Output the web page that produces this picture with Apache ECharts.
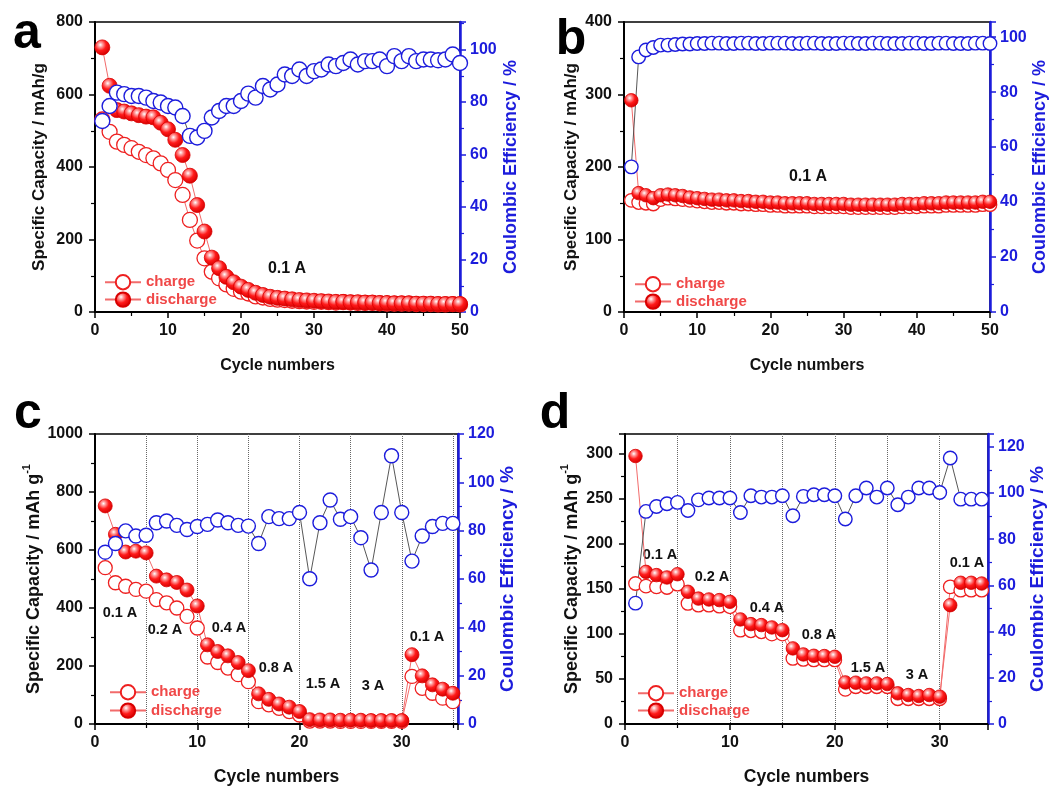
<!DOCTYPE html>
<html><head><meta charset="utf-8">
<script src="https://cdn.jsdelivr.net/npm/echarts@6/dist/echarts.min.js"></script>
<style>html,body{margin:0;padding:0;background:#fff}#c{width:1051px;height:787px}</style>
</head><body><div id="c"></div>
<script>
const FONT = '"Liberation Sans", Arial, Helvetica, sans-serif';

// ---------- Panel a (cycles 1..50, 0.1 A) ----------
const aCharge = [531,497,470,461,452,442,433,424,410,392,364,323,254,197,148,111,93,76,64,56,51,43,40,36,34,33,31,30,29,28,28,27,26,27,26,25,25,25,24,23,23,23,23,22,22,22,21,21,22,21];
const aDischarge = [730,624,557,553,548,543,539,537,522,504,475,433,376,295,222,150,121,97,82,70,61,53,47,42,39,37,35,33,32,31,30,29,28,28,27,27,26,26,25,25,24,24,24,23,23,23,22,22,22,22];
const aCE = [72.8,78.5,83.6,83.0,82.3,82.3,81.7,80.4,79.8,78.5,77.9,74.7,67.1,66.5,69.0,74.1,76.6,78.5,78.5,80.4,83.2,81.7,86.1,84.8,86.7,90.5,89.9,92.4,89.9,91.8,92.4,94.3,93.7,94.9,96.2,94.3,95.6,95.6,96.2,93.7,97.5,95.6,97.5,95.6,96.2,96.2,95.9,96.2,98.1,94.9];

// ---------- Panel b (cycles 1..50, 0.1 A) ----------
const bCharge = [154,151,150,149,155,157,156,155,154,153,152,151,151,150,150,149,149,148,148,147,147,146,146,146,146,145,145,145,145,145,144,144,144,144,144,144,144,145,145,145,146,146,146,147,147,147,147,147,148,148];
const bDischarge = [292,164,161,157,161,162,161,160,158,157,156,155,155,154,154,153,153,152,152,151,151,150,150,150,150,149,149,149,149,149,148,148,148,148,148,148,148,149,149,149,150,150,150,151,151,151,151,151,152,152];
const bCE = [52.8,92.8,95.3,96.2,97.1,97.1,97.3,97.5,97.5,97.7,97.7,97.8,97.8,97.7,97.7,97.8,97.8,97.7,97.7,97.8,97.8,97.8,97.7,97.7,97.8,97.8,97.7,97.7,97.7,97.8,97.8,97.7,97.7,97.8,97.8,97.7,97.7,97.7,97.8,97.8,97.7,97.7,97.8,97.8,97.7,97.7,97.7,97.8,97.8,97.7];

// ---------- Panel c (rate test, cycles 1..36) ----------
const cCharge = [539,487,475,464,458,429,418,400,371,331,231,212,193,170,146,77,66,54,43,31,10,10,10,9,9,9,9,9,9,9,164,123,106,89,77,60];
const cDischarge = [752,654,593,596,590,510,497,488,462,407,273,250,235,212,184,104,85,69,58,43,15,14,14,13,13,13,12,12,12,12,239,166,135,120,106,92];
const cCE = [71.1,74.7,79.9,77.8,78.1,83.3,84.0,82.2,80.5,81.7,82.6,84.4,83.3,82.2,81.9,74.7,85.8,85.0,85.0,87.5,60.1,83.3,92.7,84.7,85.8,77.1,63.7,87.5,111.0,87.5,67.4,77.8,81.7,83.0,83.0,76.4];

// ---------- Panel d (rate test, cycles 1..35) ----------
const dCharge = [155.7,152.8,152,151.3,155,133.6,131.7,131.7,130.6,129.9,104,103.3,102.2,99.6,99.6,72.7,71.6,71,71,71,38.4,41.3,41.3,41.3,41.3,28,28,28,28,28,152,148.3,148.3,148.3,148.3];
const dDischarge = [297,168.6,165,162.4,166,146.5,139,138,137.3,135.4,115.9,110.7,109.6,107,104,83.8,77.1,75.6,75.3,74.5,46.1,45.8,45,45,44.3,34,32.1,31,32.1,30.3,131.7,156.5,156.5,155.7,156.5];
const dCE = [52.3,92,94.1,95.3,95.9,92.4,97,97.8,97.8,97.8,91.5,98.8,98.2,98.2,98.8,90.1,98.5,99.2,99.2,98.8,88.7,98.8,102.1,98.2,102.1,94.9,98.2,102.1,102.1,100.2,115.1,97.3,97.3,97.3,97.3];

// ---------- Text labels ----------
const panelLetters = ['a','b','c','d'];
const xTitle = 'Cycle numbers';
const yTitleAB = 'Specific Capacity / mAh/g';
const yTitleCDmain = 'Specific Capacity / mAh g';
const yTitleCDsup = '-1';
const rTitle = 'Coulombic Efficiency / %';
const currentsA = ['0.1 A'];
const currentsB = ['0.1 A'];
const currentsC = ['0.1 A','0.2 A','0.4 A','0.8 A','1.5 A','3 A','0.1 A'];
const currentsD = ['0.1 A','0.2 A','0.4 A','0.8 A','1.5 A','3 A','0.1 A'];

// ---------- Layout (positions / styles only) ----------
const layout = [
  {grid:{left:95,top:22,width:365,height:290}, xMax:50, yMax:800, yInt:200, rMax:110.5, sym:15,
   data:[aCharge,aDischarge,aCE], dotted:false, yNameGap:47, rNameGap:42, xNameGap:46, xNameSize:16, titleSize:17, rich:false,
   legend:{left:99, top:269, gap:1},
   letter:{x:27,y:34}, labels:currentsA, labelPos:[[287,269]], labelSize:16},
  {grid:{left:624,top:22,width:366,height:290}, xMax:50, yMax:400, yInt:100, rMax:105.5, sym:13.5,
   data:[bCharge,bDischarge,bCE], dotted:false, yNameGap:44, rNameGap:40, xNameGap:46, xNameSize:16, titleSize:17, rich:false,
   legend:{left:629, top:271, gap:1},
   letter:{x:571,y:40}, labels:currentsB, labelPos:[[808,177]], labelSize:16},
  {grid:{left:95,top:434,width:363,height:290}, xMax:35.5, yMax:1000, yInt:200, rMax:120, sym:14,
   data:[cCharge,cDischarge,cCE], dotted:true, yNameGap:46, rNameGap:38, xNameGap:44, xNameSize:17.5, titleSize:18, rich:true,
   legend:{left:104, top:679, gap:2},
   letter:{x:28,y:414}, labels:currentsC, labelPos:[[120,613],[165,630],[229,628],[276,668],[323,684],[373,686],[427,637]], labelSize:14.5},
  {grid:{left:625,top:434,width:363,height:290}, xMax:34.6, yMax:321.4, yInt:50, rMax:125.5, sym:13.5,
   data:[dCharge,dDischarge,dCE], dotted:true, yNameGap:44, rNameGap:38, xNameGap:44, xNameSize:17.5, titleSize:18, rich:true,
   legend:{left:632, top:680, gap:1},
   letter:{x:555,y:414}, labels:currentsD, labelPos:[[660,555],[712,577],[767,608],[819,635],[868,668],[917,675],[967,563]], labelSize:14.5}
];

const BLUE = '#1c1cdc';
const REDLINE = '#f26b6b';
const discharageFill = {type:'radial', x:0.38, y:0.34, r:0.66, colorStops:[
  {offset:0,color:'#ffffff'},{offset:0.22,color:'#ff9a9a'},{offset:0.55,color:'#ff1a1a'},{offset:1,color:'#d40000'}]};

const option = {animation:false, backgroundColor:'#fff', grid:[], xAxis:[], yAxis:[], series:[], legend:[], graphic:[]};

function isMult(v, step){ return Math.abs(v/step - Math.round(v/step)) < 1e-6; }

layout.forEach((p, gi) => {
  option.grid.push(Object.assign({show:true, borderColor:'#000', borderWidth:1.5, backgroundColor:'transparent'}, p.grid));
  option.xAxis.push({
    type:'value', gridIndex:gi, min:0, max:p.xMax, interval:10,
    name:xTitle, nameLocation:'middle', nameGap:p.xNameGap,
    nameTextStyle:{fontFamily:FONT, fontWeight:'bold', fontSize:p.xNameSize, color:'#111'},
    axisLine:{onZero:false, lineStyle:{color:'#000', width:2}},
    axisTick:{show:true, length:6, lineStyle:{color:'#000', width:1.5}},
    minorTick:{show:true, splitNumber:2, length:4, lineStyle:{color:'#000', width:1.2}},
    axisLabel:{margin:11, fontFamily:FONT, fontWeight:'bold', fontSize:16, color:'#111',
      formatter:v => isMult(v,10) ? String(v) : ''},
    splitLine:{show:p.dotted, lineStyle:{type:'dotted', color:'#666', width:1}},
    minorSplitLine:{show:p.dotted, lineStyle:{type:'dotted', color:'#666', width:1}}
  });
  const yName = p.rich ? '{n|' + yTitleCDmain + '}{s|' + yTitleCDsup + '}' : yTitleAB;
  const titleStyle = {fontFamily:FONT, fontWeight:'bold', fontSize:p.titleSize, color:'#111'};
  if (p.rich) titleStyle.rich = {
    n:{fontFamily:FONT, fontWeight:'bold', fontSize:p.titleSize, color:'#111', lineHeight:22, verticalAlign:'bottom'},
    s:{fontFamily:FONT, fontWeight:'bold', fontSize:11, color:'#111', lineHeight:22, verticalAlign:'top'}
  };
  option.yAxis.push({
    type:'value', gridIndex:gi, position:'left', min:0, max:p.yMax, interval:p.yInt,
    name:yName, nameLocation:'middle', nameGap:p.yNameGap, nameRotate:90,
    nameTextStyle:titleStyle,
    axisLine:{show:true, onZero:false, lineStyle:{color:'#000', width:2}},
    axisTick:{show:true, length:6, lineStyle:{color:'#000', width:1.5}},
    minorTick:{show:true, splitNumber:2, length:4, lineStyle:{color:'#000', width:1.2}},
    axisLabel:{margin:12, fontFamily:FONT, fontWeight:'bold', fontSize:16, color:'#111',
      formatter:v => isMult(v,p.yInt) ? String(v) : ''},
    splitLine:{show:false}
  });
  option.yAxis.push({
    type:'value', gridIndex:gi, position:'right', min:0, max:p.rMax, interval:20,
    name:rTitle, nameLocation:'middle', nameGap:p.rNameGap, nameRotate:90,
    nameTextStyle:{fontFamily:FONT, fontWeight:'bold', fontSize:p.titleSize+1, color:BLUE},
    axisLine:{show:true, onZero:false, lineStyle:{color:BLUE, width:2.5}},
    axisTick:{show:true, length:6, lineStyle:{color:BLUE, width:1.5}},
    minorTick:{show:true, splitNumber:2, length:4, lineStyle:{color:BLUE, width:1.2}},
    axisLabel:{margin:10, fontFamily:FONT, fontWeight:'bold', fontSize:16, color:BLUE,
      formatter:v => isMult(v,20) ? String(v) : ''},
    splitLine:{show:false}
  });
  const [ch, dis, ce] = p.data;
  option.series.push({
    type:'line', name:'charge', xAxisIndex:gi, yAxisIndex:2*gi,
    data:ch.map((v,i)=>[i+1,v]), symbol:'circle', symbolSize:p.sym, clip:true,
    itemStyle:{color:'#ffffff', borderColor:'#ee2020', borderWidth:1.3},
    lineStyle:{color:REDLINE, width:1}
  });
  option.series.push({
    type:'line', name:'discharge', xAxisIndex:gi, yAxisIndex:2*gi,
    data:dis.map((v,i)=>[i+1,v]), symbol:'circle', symbolSize:p.sym, clip:true,
    itemStyle:{color:discharageFill, borderColor:'#d80000', borderWidth:0.8},
    lineStyle:{color:REDLINE, width:1}
  });
  option.series.push({
    type:'line', name:'Coulombic efficiency', xAxisIndex:gi, yAxisIndex:2*gi+1,
    data:ce.map((v,i)=>[i+1,v]), symbol:'circle', symbolSize:p.sym, clip:true,
    itemStyle:{color:'#ffffff', borderColor:BLUE, borderWidth:1.4},
    lineStyle:{color:'#444', width:0.9}
  });
  option.legend.push({
    left:p.legend.left, top:p.legend.top, orient:'vertical', itemWidth:36, itemHeight:18, itemGap:p.legend.gap,
    selectedMode:false, data:['charge','discharge'],
    textStyle:{fontFamily:FONT, fontWeight:'bold', fontSize:15, color:'#f04848'}
  });
  option.graphic.push({type:'text', x:p.letter.x, y:p.letter.y,
    style:{text:panelLetters[gi], font:'bold 50px ' + FONT, fill:'#000', align:'center', verticalAlign:'middle'}});
  p.labels.forEach((t, k) => {
    option.graphic.push({type:'text', x:p.labelPos[k][0], y:p.labelPos[k][1],
      style:{text:t, font:'bold ' + p.labelSize + 'px ' + FONT, fill:'#111', align:'center', verticalAlign:'middle'}});
  });
});

const chart = echarts.init(document.getElementById('c'), null, {renderer:'canvas'});
chart.setOption(option);
</script></body></html>
